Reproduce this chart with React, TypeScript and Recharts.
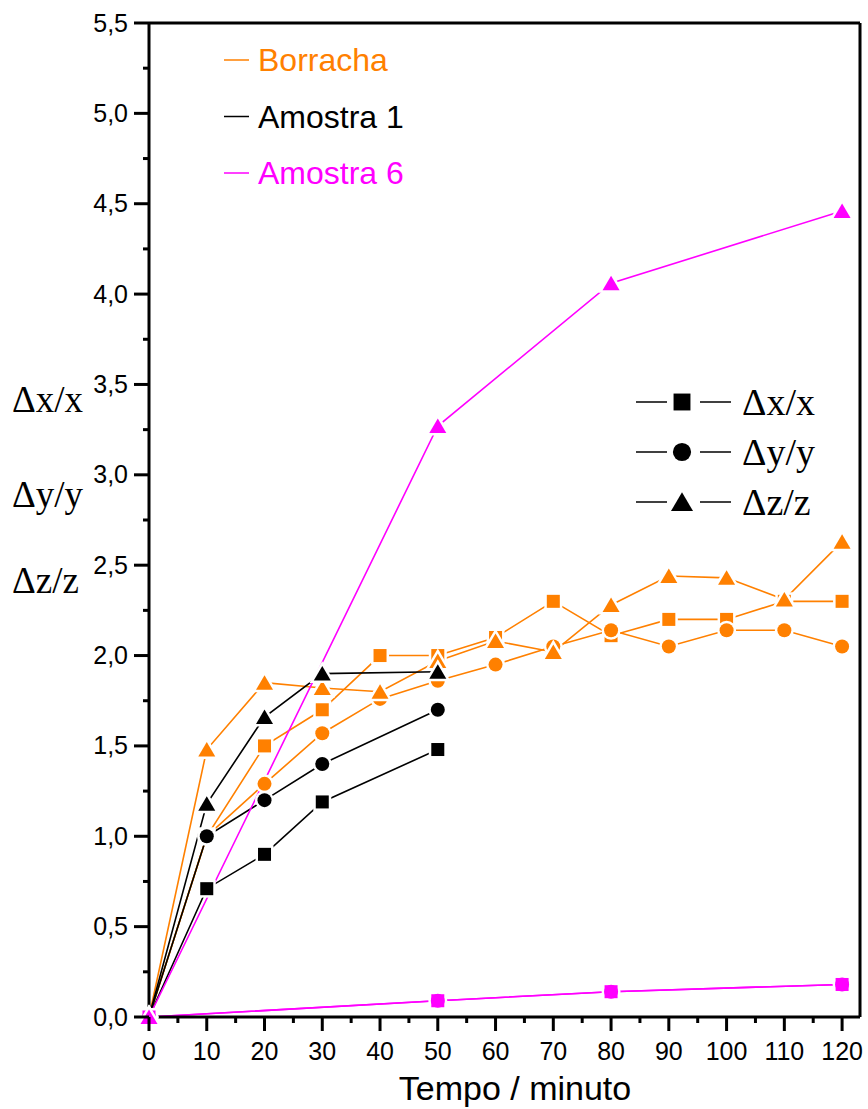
import { LineChart, Line, XAxis, YAxis, ReferenceLine } from "recharts";

// axis ticks
const X_MAX = 123.1;
const X_TICKS = [0, 5, 10, 15, 20, 25, 30, 35, 40, 45, 50, 55, 60, 65, 70, 75, 80, 85, 90, 95, 100, 105, 110, 115, 120];
const Y_TICKS = [
  0, 0.25, 0.5, 0.75, 1, 1.25, 1.5, 1.75, 2, 2.25, 2.5, 2.75,
  3, 3.25, 3.5, 3.75, 4, 4.25, 4.5, 4.75, 5, 5.25, 5.5,
];

// Borracha (orange)
const BORRACHA_T = [0, 10, 20, 30, 40, 50, 60, 70, 80, 90, 100, 110, 120];
const BORRACHA_DX = [0, 1.0, 1.5, 1.7, 2.0, 2.0, 2.1, 2.3, 2.11, 2.2, 2.2, 2.3, 2.3];
const BORRACHA_DY = [0, 1.0, 1.29, 1.57, 1.76, 1.86, 1.95, 2.05, 2.14, 2.05, 2.14, 2.14, 2.05];
const BORRACHA_DZ = [0, 1.48, 1.85, 1.82, 1.8, 1.97, 2.08, 2.02, 2.28, 2.44, 2.43, 2.31, 2.63];

// Amostra 1 (black)
const A1_T = [0, 10, 20, 30, 50];
const A1_DX = [0, 0.71, 0.9, 1.19, 1.48];
const A1_DY = [0, 1.0, 1.2, 1.4, 1.7];
const A1_DZ = [0, 1.18, 1.66, 1.9, 1.91];

// Amostra 6 (magenta)
const A6_T = [0, 50, 80, 120];
const A6_DX = [0, 0.09, 0.14, 0.18];
const A6_DY = [0, 0.09, 0.14, 0.18];
const A6_DZ = [0, 3.27, 4.06, 4.46];

const ORANGE = "#ff8000";
const MAGENTA = "#ff00ff";
const SANS = "'Liberation Sans', Arial, sans-serif";
const SERIF = "'Liberation Serif', 'Times New Roman', serif";

type Shape = "square" | "circle" | "triangle";

const SERIES: { name: string; t: number[]; v: number[]; shape: Shape; color: string; halo?: boolean }[] = [
  { name: "b-dx", t: BORRACHA_T, v: BORRACHA_DX, shape: "square", color: ORANGE },
  { name: "b-dy", t: BORRACHA_T, v: BORRACHA_DY, shape: "circle", color: ORANGE },
  { name: "b-dz", t: BORRACHA_T, v: BORRACHA_DZ, shape: "triangle", color: ORANGE },
  { name: "a1-dx", t: A1_T, v: A1_DX, shape: "square", color: "#000" },
  { name: "a1-dy", t: A1_T, v: A1_DY, shape: "circle", color: "#000" },
  { name: "a1-dz", t: A1_T, v: A1_DZ, shape: "triangle", color: "#000" },
  // dy drawn first so the overlapping square + circle read as one rounded mark
  { name: "a6-dy", t: A6_T, v: A6_DY, shape: "circle", color: MAGENTA },
  { name: "a6-dx", t: A6_T, v: A6_DX, shape: "square", color: MAGENTA, halo: false },
  { name: "a6-dz", t: A6_T, v: A6_DZ, shape: "triangle", color: MAGENTA },
];

function Marker({ cx, cy, shape, color, s = 1, halo = true }: any) {
  const extra = halo ? { stroke: "#fff", strokeWidth: 5, style: { paintOrder: "stroke" } } : {};
  if (shape === "square") {
    const h = 6.5 * s;
    return <rect x={cx - h} y={cy - h} width={2 * h} height={2 * h} fill={color} {...extra} />;
  }
  if (shape === "circle") return <circle cx={cx} cy={cy} r={7 * s} fill={color} {...extra} />;
  const w = 8.5 * s;
  return (
    <polygon
      points={`${cx},${cy - 7.5 * s} ${cx - w},${cy + 7 * s} ${cx + w},${cy + 7 * s}`}
      fill={color}
      {...extra}
    />
  );
}

function XTick({ x, y, payload }: any) {
  const v = payload.value;
  const major = v % 10 === 0;
  return (
    <g>
      <line x1={x} x2={x} y1={y} y2={y + (major ? 14 : 6)} stroke="#000" strokeWidth={3} />
      {major && (
        <text x={x} y={y + 43} textAnchor="middle" fontFamily={SANS} fontSize={25} fill="#000">
          {v}
        </text>
      )}
    </g>
  );
}

function YTick({ x, y, payload }: any) {
  const v = payload.value;
  const major = Math.abs(v * 2 - Math.round(v * 2)) < 1e-6;
  return (
    <g>
      <line x1={x - (major ? 15 : 6)} x2={x} y1={y} y2={y} stroke="#000" strokeWidth={3} />
      {major && (
        <text x={x - 21} y={y + 8.5} textAnchor="end" fontFamily={SANS} fontSize={25} fill="#000">
          {v.toFixed(1).replace(".", ",")}
        </text>
      )}
    </g>
  );
}

const LEGEND_SAMPLES = [
  { label: "Borracha", color: ORANGE },
  { label: "Amostra 1", color: "#000" },
  { label: "Amostra 6", color: MAGENTA },
];
const LEGEND_SHAPES: { label: string; shape: Shape }[] = [
  { label: "\u0394x/x", shape: "square" },
  { label: "\u0394y/y", shape: "circle" },
  { label: "\u0394z/z", shape: "triangle" },
];
const Y_LABELS = ["\u0394x/x", "\u0394y/y", "\u0394z/z"];

export default function App() {
  return (
    <div style={{ position: "absolute", left: 0, top: 0, width: 868, height: 1109, background: "#fff" }}>
      <LineChart width={868} height={1109} margin={{ top: 23, right: 8, left: 0, bottom: 0 }}>
        <XAxis
          type="number"
          dataKey="x"
          domain={[0, X_MAX]}
          ticks={X_TICKS}
          interval={0}
          height={92}
          tickSize={0}
          tickMargin={0}
          tickLine={false}
          axisLine={{ stroke: "#000", strokeWidth: 3 }}
          tick={(p: any) => <XTick {...p} />}
        />
        <YAxis
          type="number"
          domain={[0, 5.5]}
          ticks={Y_TICKS}
          interval={0}
          width={149}
          tickSize={0}
          tickMargin={0}
          tickLine={false}
          axisLine={{ stroke: "#000", strokeWidth: 3 }}
          tick={(p: any) => <YTick {...p} />}
        />
        <ReferenceLine y={5.5} stroke="#000" strokeWidth={3} />
        <ReferenceLine x={X_MAX} stroke="#000" strokeWidth={3} />
        {SERIES.map((s) => (
          <Line
            key={s.name}
            data={s.t.map((x, i) => ({ x, y: s.v[i] }))}
            dataKey="y"
            type="linear"
            stroke={s.color}
            strokeWidth={1.6}
            isAnimationActive={false}
            activeDot={false}
            dot={(p: any) => (
              <Marker
                key={`${s.name}-${p.index}`}
                cx={p.cx}
                cy={p.cy}
                shape={s.shape}
                color={s.color}
                halo={s.halo !== false}
              />
            )}
          />
        ))}
      </LineChart>
      <svg
        width={868}
        height={1109}
        style={{ position: "absolute", left: 0, top: 0, pointerEvents: "none" }}
      >
        {LEGEND_SAMPLES.map((l, i) => (
          <g key={l.label}>
            <line x1={224} x2={249} y1={60 + i * 56.5} y2={60 + i * 56.5} stroke={l.color} strokeWidth={1.5} />
            <text x={258} y={71 + i * 56.5} fontFamily={SANS} fontSize={32} fill={l.color}>
              {l.label}
            </text>
          </g>
        ))}
        {LEGEND_SHAPES.map((l, i) => {
          const cy = 402 + i * 50;
          return (
            <g key={l.label}>
              <line x1={636} x2={667} y1={cy} y2={cy} stroke="#000" strokeWidth={1.5} />
              <Marker cx={682} cy={cy} shape={l.shape} color="#000" s={1.3} halo={false} />
              <line x1={700} x2={731} y1={cy} y2={cy} stroke="#000" strokeWidth={1.5} />
              <text x={742} y={cy + 13} fontFamily={SERIF} fontSize={38} fill="#000">
                {l.label}
              </text>
            </g>
          );
        })}
        {Y_LABELS.map((t, i) => (
          <text key={t} x={12} y={[412, 507, 593][i]} fontFamily={SERIF} fontSize={37} fill="#000">
            {t}
          </text>
        ))}
        <text x={515} y={1100} textAnchor="middle" fontFamily={SANS} fontSize={34} fill="#000">
          Tempo / minuto
        </text>
      </svg>
    </div>
  );
}
